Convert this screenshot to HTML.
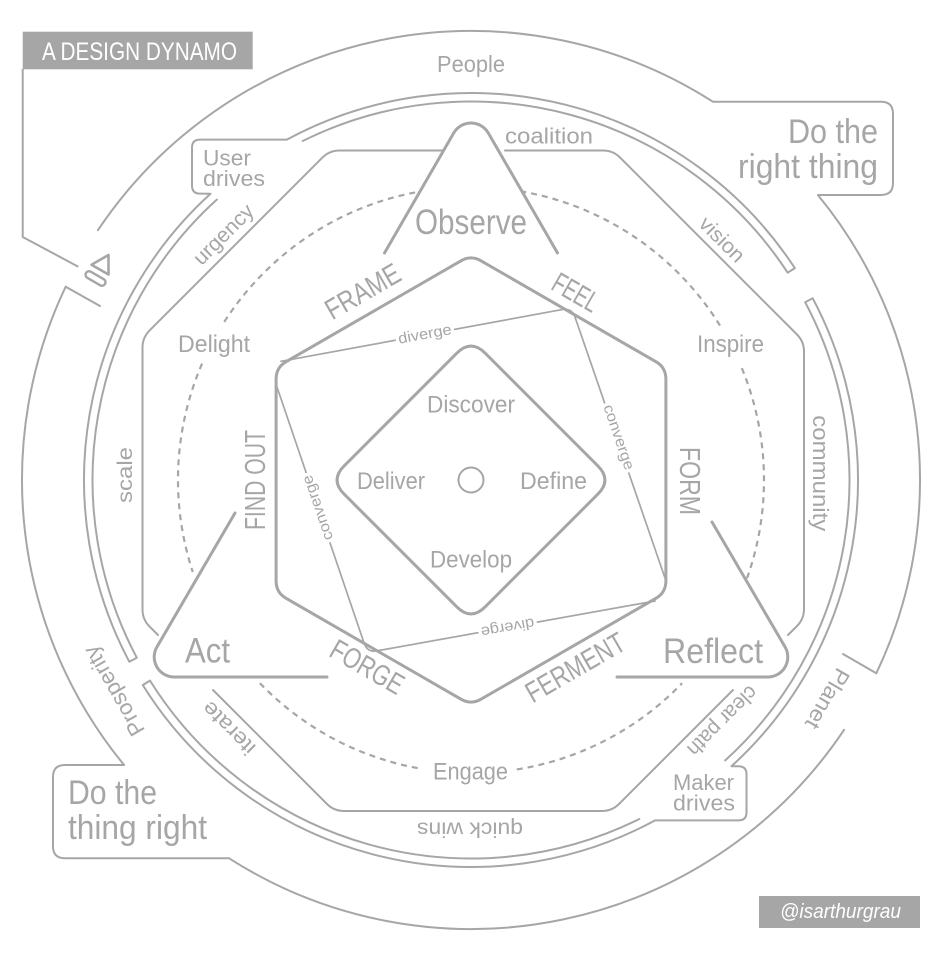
<!DOCTYPE html>
<html><head><meta charset="utf-8"><style>
html,body{margin:0;padding:0;background:#fff;}
svg{display:block;}
.l{fill:none;stroke:#a6a6a6;stroke-width:2;stroke-linecap:round;stroke-linejoin:round;}
.k{fill:none;stroke:#a6a6a6;stroke-width:3;stroke-linecap:round;stroke-linejoin:round;}
.d{fill:none;stroke:#a6a6a6;stroke-width:2.2;stroke-dasharray:6 5;}
text{font-family:"Liberation Sans",Arial,sans-serif;fill:#a6a6a6;}
.h{stroke:#fff;stroke-width:6px;paint-order:stroke;stroke-linejoin:round;}
</style></head><body>
<svg width="947" height="962" viewBox="0 0 947 962" xmlns="http://www.w3.org/2000/svg">
<rect width="947" height="962" fill="#fff"/>

<!-- outer circle -->
<path class="l" d="M97.9,230.2 A449,449 0 0 1 712.9,101.7 L881,101.7 Q893,101.7 893,113.7 L893,183 Q893,195 881,195 L817.9,195 A449,449 0 0 1 876.3,673.3 L843,654"/>
<path class="l" d="M844.1,729.8 A449,449 0 0 1 229.1,858.3 L65,858.3 Q53,858.3 53,846.3 L53,777 Q53,765 65,765 L124.1,765 A449,449 0 0 1 65.7,286.7 L100,306"/>

<!-- title box & bracket -->
<rect x="22.7" y="31.7" width="230" height="37.6" fill="#a6a6a6"/>
<text x="42" y="60" font-size="25" textLength="195" lengthAdjust="spacingAndGlyphs" style="fill:#fff">A DESIGN DYNAMO</text>
<path class="l" d="M22.7,69 L22.7,237 L78.3,266.7" style="stroke-linecap:butt"/>

<!-- eject icon -->
<path d="M108.5,255 L108.5,274.5 L91.5,264.7 Z" fill="none" stroke="#a6a6a6" stroke-width="2.6" stroke-linejoin="round"/>
<rect x="84.5" y="275" width="22" height="7" rx="3.5" fill="none" stroke="#a6a6a6" stroke-width="2.4" transform="rotate(30 95.5 278.5)"/>

<!-- ring band -->
<path class="l" d="M302.7,141.0 A378.5,378.5 0 0 1 787.7,272.7 L794.8,268.1 A387,387 0 0 0 286.9,139.6 L200,139.6 Q192,139.6 192,147.6 L192,185.6 Q192,193.6 200,193.6 L210.5,193.8 A387,387 0 0 0 129.3,661.7 L136.8,657.7 A378.5,378.5 0 0 1 216.8,199.6"/>
<path class="l" d="M725.2,760.4 A378.5,378.5 0 0 0 805.2,302.3 L812.7,298.3 A387,387 0 0 1 731.5,766.2 L738.5,766.2 Q746.5,766.2 746.5,774.2 L746.5,812.4 Q746.5,820.4 738.5,820.4 L655.1,820.4 A387,387 0 0 1 142.8,685.1 L150.0,680.6 A378.5,378.5 0 0 0 639.3,819.0"/>

<!-- octagon -->
<path class="l" d="M443,150.5 L339.5,150.5 Q329.5,150.5 322.4,157.6 L149.6,330.4 Q142.5,337.5 142.5,347.5 L142.5,609.5 Q142.5,619.5 149.6,626.6 L158,635"/>
<path class="l" d="M213,690 L327,804 Q334,811 344,811 L602,811 Q612,811 619,804 L733,690"/>
<path class="l" d="M788,635 L797,626 Q804,619 804,609 L804,351.5 Q804,341.5 797,334.5 L620,157.5 Q613,150.5 603,150.5 L505,150.5"/>

<!-- dashed circle -->
<path class="d" d="M415.1,192.4 A293,293 0 0 0 222.2,325.2"/>
<path class="d" d="M202.1,363.6 A293,293 0 0 0 192.8,572.0"/>
<path class="d" d="M259.9,683.2 A293,293 0 0 0 421.1,768.7"/>
<path class="d" d="M516.8,769.4 A293,293 0 0 0 682.1,683.2"/>
<path class="d" d="M747.0,578.3 A293,293 0 0 0 740.7,365.5"/>
<path class="d" d="M720.0,325.6 A293,293 0 0 0 521.9,191.5"/>

<!-- triangles -->
<path class="k" d="M384.5,253 L453.7,133 A20,20 0 0 1 488.3,133 L557.5,253"/>
<path class="k" d="M235,513 L156.9,647 A20,20 0 0 0 174.2,677 L327,677"/>
<path class="k" d="M712,522 L785.1,647 A20,20 0 0 1 767.8,677 L617,677"/>

<!-- hexagon -->
<path class="k" d="M461,260.8 Q471,255 481,260.8 L655.9,361.7 Q665.9,367.5 665.9,379.05 L665.9,580.95 Q665.9,592.5 655.9,598.3 L481,699.2 Q471,705 461,699.2 L286.1,598.3 Q276.1,592.5 276.1,580.95 L276.1,379.05 Q276.1,367.5 286.1,361.7 Z"/>

<!-- thin parallelogram -->
<path class="l" style="stroke-width:1.7" d="M281,361.3 L562,309.6 Q571.8,307.8 575.1,317.3 L665,578"/>
<path class="l" style="stroke-width:1.7" d="M655,601 L377.1,650.8 Q367.3,652.6 364.1,643.1 L277,387"/>

<!-- diamond -->
<path class="k" d="M456.9,353.1 Q471,339 485.1,353.1 L597.9,465.9 Q612,480 597.9,494.1 L485.1,606.9 Q471,621 456.9,606.9 L344.1,494.1 Q330,480 344.1,465.9 Z"/>
<circle cx="471" cy="480" r="12.5" fill="none" stroke="#a6a6a6" stroke-width="2"/>

<!-- diverge / converge labels -->
<text class="h" x="425" y="338.9" font-size="15" text-anchor="middle" textLength="54" lengthAdjust="spacingAndGlyphs" transform="rotate(-10.4 425 335)">diverge</text>
<text class="h" x="616.5" y="440.3" font-size="15" text-anchor="middle" textLength="68" lengthAdjust="spacingAndGlyphs" transform="rotate(71 616.5 438)">converge</text>
<text class="h" x="507.5" y="630.6" font-size="15" text-anchor="middle" textLength="54" lengthAdjust="spacingAndGlyphs" transform="rotate(169.8 507.5 626.7)">diverge</text>
<text class="h" x="320" y="509.3" font-size="15" text-anchor="middle" textLength="68" lengthAdjust="spacingAndGlyphs" transform="rotate(251 320 507)">converge</text>

<!-- inner labels -->
<text x="471" y="412.7" font-size="24" text-anchor="middle" textLength="88" lengthAdjust="spacingAndGlyphs">Discover</text>
<text x="357" y="489" font-size="24" textLength="68" lengthAdjust="spacingAndGlyphs">Deliver</text>
<text x="520" y="489" font-size="24" textLength="67" lengthAdjust="spacingAndGlyphs">Define</text>
<text x="430" y="567.3" font-size="24" textLength="82" lengthAdjust="spacingAndGlyphs">Develop</text>

<!-- dashed circle labels -->
<text x="178" y="352" font-size="24" textLength="72" lengthAdjust="spacingAndGlyphs">Delight</text>
<text x="697" y="352" font-size="24" textLength="67" lengthAdjust="spacingAndGlyphs">Inspire</text>
<text x="433" y="779.3" font-size="24" textLength="75" lengthAdjust="spacingAndGlyphs">Engage</text>

<!-- triangle labels -->
<text x="415" y="234" font-size="35" textLength="112" lengthAdjust="spacingAndGlyphs">Observe</text>
<text x="185" y="662.5" font-size="35" textLength="45" lengthAdjust="spacingAndGlyphs">Act</text>
<text x="663" y="663" font-size="35" textLength="100" lengthAdjust="spacingAndGlyphs">Reflect</text>

<!-- hexagon labels -->
<text x="362.5" y="301.4" font-size="29" text-anchor="middle" textLength="82" lengthAdjust="spacingAndGlyphs" transform="rotate(-30 362.5 291)">FRAME</text>
<text x="576" y="302.4" font-size="29" text-anchor="middle" textLength="49" lengthAdjust="spacingAndGlyphs" transform="rotate(30 576 292)">FEEL</text>
<text x="690.5" y="491.4" font-size="29" text-anchor="middle" textLength="68" lengthAdjust="spacingAndGlyphs" transform="rotate(90 690.5 481)">FORM</text>
<text x="575" y="677.4" font-size="29" text-anchor="middle" textLength="110" lengthAdjust="spacingAndGlyphs" transform="rotate(-30 575 667)">FERMENT</text>
<text x="367.5" y="676.9" font-size="29" text-anchor="middle" textLength="80" lengthAdjust="spacingAndGlyphs" transform="rotate(30 367.5 666.5)">FORGE</text>
<text x="254.5" y="490.4" font-size="29" text-anchor="middle" textLength="100" lengthAdjust="spacingAndGlyphs" transform="rotate(-90 254.5 480)">FIND OUT</text>

<!-- octagon labels -->
<text x="505" y="143.3" font-size="22" textLength="88" lengthAdjust="spacingAndGlyphs">coalition</text>
<text x="722.5" y="246.7" font-size="21" text-anchor="middle" textLength="55" lengthAdjust="spacingAndGlyphs" transform="rotate(45 722.5 239)">vision</text>
<text x="817.5" y="478" font-size="22" text-anchor="middle" textLength="116" lengthAdjust="spacingAndGlyphs" transform="rotate(90 817.5 473.3)">community</text>
<text x="721.5" y="725.5" font-size="21" text-anchor="middle" textLength="90" lengthAdjust="spacingAndGlyphs" transform="rotate(135 721.5 720)">clear path</text>
<text x="470" y="833.5" font-size="21" text-anchor="middle" textLength="106" lengthAdjust="spacingAndGlyphs" transform="rotate(180 470 828)">quick wins</text>
<text x="228.5" y="735.9" font-size="21" text-anchor="middle" textLength="66" lengthAdjust="spacingAndGlyphs" transform="rotate(225 228.5 728.5)">iterate</text>
<text x="124.5" y="482.7" font-size="21" text-anchor="middle" textLength="56" lengthAdjust="spacingAndGlyphs" transform="rotate(-90 124.5 475)">scale</text>
<text x="226" y="240.3" font-size="21" text-anchor="middle" textLength="76" lengthAdjust="spacingAndGlyphs" transform="rotate(-45 226 237)">urgency</text>

<!-- outer labels -->
<text x="471" y="72" font-size="23" text-anchor="middle" textLength="68" lengthAdjust="spacingAndGlyphs">People</text>
<text x="828" y="707" font-size="22" text-anchor="middle" textLength="66" lengthAdjust="spacingAndGlyphs" transform="rotate(120 828 699)">Planet</text>
<text x="115.5" y="695.6" font-size="22" text-anchor="middle" textLength="100" lengthAdjust="spacingAndGlyphs" transform="rotate(240 115.5 690)">Prosperity</text>

<!-- callouts -->
<text x="203" y="165.5" font-size="22" textLength="48" lengthAdjust="spacingAndGlyphs">User</text>
<text x="203" y="186" font-size="22" textLength="62" lengthAdjust="spacingAndGlyphs">drives</text>
<text x="673" y="790" font-size="22" textLength="61" lengthAdjust="spacingAndGlyphs">Maker</text>
<text x="673" y="810.7" font-size="22" textLength="62" lengthAdjust="spacingAndGlyphs">drives</text>

<text x="878" y="143" font-size="34" text-anchor="end" textLength="90" lengthAdjust="spacingAndGlyphs">Do the</text>
<text x="878" y="178" font-size="34" text-anchor="end" textLength="140" lengthAdjust="spacingAndGlyphs">right thing</text>
<text x="68" y="804" font-size="34" textLength="89" lengthAdjust="spacingAndGlyphs">Do the</text>
<text x="68" y="839" font-size="34" textLength="139" lengthAdjust="spacingAndGlyphs">thing right</text>

<!-- credit -->
<rect x="759" y="896" width="161" height="32" fill="#a6a6a6"/>
<text x="780" y="918" font-size="20" font-style="italic" textLength="121" lengthAdjust="spacingAndGlyphs" style="fill:#fff">@isarthurgrau</text>
</svg>
</body></html>
